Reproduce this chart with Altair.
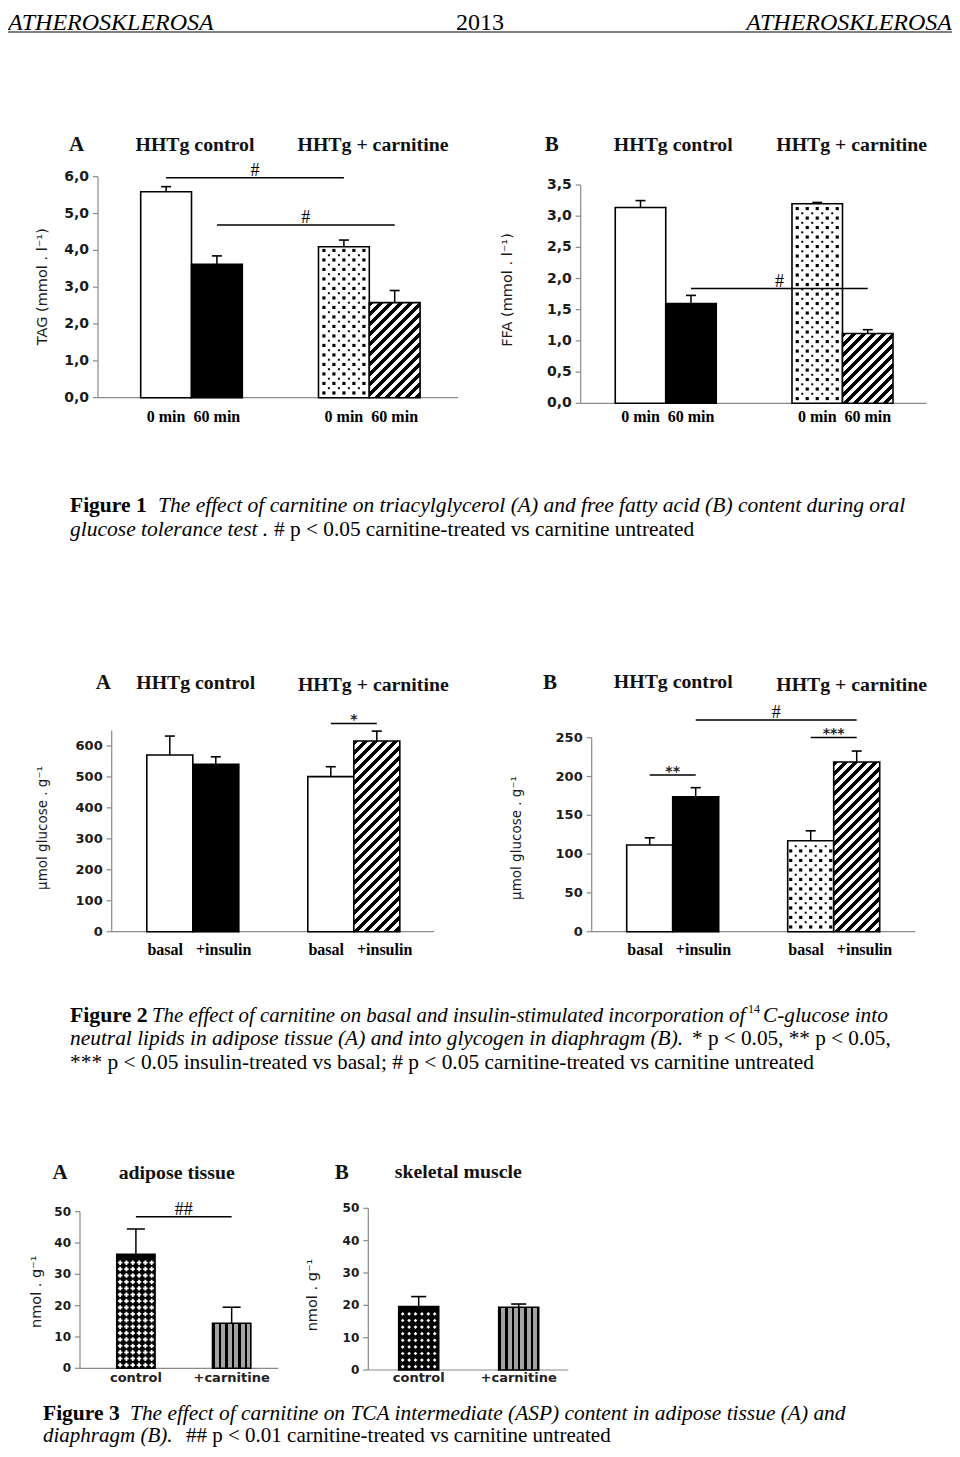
import altair as alt
import pandas as pd

# ---------------- data ----------------
fig1_groups = ["HHTg control", "HHTg + carnitine"]
fig1_times = ["0 min", "60 min"]
fig1a_tag = [5.59, 3.62, 4.10, 2.58]
fig1a_tag_sem = [0.14, 0.23, 0.18, 0.33]
fig1b_ffa = [3.14, 1.60, 3.20, 1.12]
fig1b_ffa_sem = [0.11, 0.13, 0.02, 0.06]

fig2_groups = ["HHTg control", "HHTg + carnitine"]
fig2_treat = ["basal", "+insulin"]
fig2a_lipids = [571, 541, 501, 616]
fig2a_lipids_sem = [61, 24, 32, 32]
fig2b_glycogen = [111.7, 174.0, 117.3, 218.6]
fig2b_glycogen_sem = [9.3, 11.6, 12.7, 14.2]

fig3_groups = ["control", "+carnitine"]
fig3a_asp = [36.4, 14.4]
fig3a_asp_sem = [8.1, 5.1]
fig3b_asp = [19.6, 19.4]
fig3b_asp_sem = [3.1, 1.0]

# y-axis tick values
fig1a_ticks = [0, 1, 2, 3, 4, 5, 6]
fig1b_ticks = [0, 0.5, 1, 1.5, 2, 2.5, 3, 3.5]
fig2a_ticks = [0, 100, 200, 300, 400, 500, 600]
fig2b_ticks = [0, 50, 100, 150, 200, 250]
fig3_ticks = [0, 10, 20, 30, 40, 50]

# significance brackets: (from bar, to bar, height, symbol)
fig1a_sig = [(0, 2, 5.97, "#"), (1, 3, 4.69, "#")]
fig1b_sig = [(1, 3, 1.84, "#")]
fig2a_sig = [(2, 3, 673, "*")]
fig2b_sig = [(0, 1, 201.9, "**"), (2, 3, 250.4, "***"), (1, 3, 272.8, "#")]
fig3a_sig = [(0, 1, 48.4, "##")]
fig3b_sig = []

# ---------------- layout / style ----------------
W, H, M = 944, 1441, 8
SERIF = "Liberation Serif"
SANS = "DejaVu Sans"
AXC = "#8a8a8a"
LBLC = "#1b1b1b"


def hatch_fill(w, h, period=10.0, frac=0.5):
    L = w + h
    k = (w * w + h * h) / L
    stops = []
    j = 0
    while j * period < L:
        a = j * period / L
        b = min((j * period + period * frac) / L, 1.0)
        c = min((j + 1) * period / L, 1.0)
        stops += [{"offset": round(a, 5), "color": "black"}, {"offset": round(b, 5), "color": "black"},
                  {"offset": round(b, 5), "color": "white"}, {"offset": round(c, 5), "color": "white"}]
        j += 1
    return {"gradient": "linear", "x1": 0, "y1": 0, "x2": w / k, "y2": h / k, "stops": stops}


def vstripe_fill(w, period=6.4, frac=0.38):
    stops = []
    j = 0
    while j * period < w:
        a = j * period / w
        b = min((j * period + period * frac) / w, 1.0)
        c = min((j + 1) * period / w, 1.0)
        stops += [{"offset": round(a, 5), "color": "black"}, {"offset": round(b, 5), "color": "black"},
                  {"offset": round(b, 5), "color": "#a3a3a3"}, {"offset": round(c, 5), "color": "#a3a3a3"}]
        j += 1
    return {"gradient": "linear", "x1": 0, "y1": 0, "x2": 1, "y2": 0, "stops": stops}


def centred(n, step):
    return [(k - (n - 1) / 2) * step for k in range(n)]


def build_panel(P):
    n = len(P["values"])
    nper = P["nper"]
    df = pd.DataFrame({"i": list(range(n)), "label": P["labels"],
                       "value": P["values"], "sem": P["sems"]})

    def posexpr(f):
        return f"floor(datum.{f} / {nper}) * {P['gstep']} + (datum.{f} % {nper})"

    u = P["u"]
    xmin = (P["x0"] - P["c0"]) / u
    xmax = (P["x1"] - P["c0"]) / u
    xs = alt.Scale(domain=[xmin, xmax], range=[P["x0"] - M, P["x1"] - M], nice=False)
    ys = alt.Scale(domain=[0, P["ymax"]], range=[P["ybot"] - M, P["ytop"] - M], nice=False)
    ppu = (P["ybot"] - P["ytop"]) / P["ymax"]

    def X(f):
        return alt.X(f, scale=xs, axis=None)

    def Y(f):
        return alt.Y(f, scale=ys, axis=None)

    layers = []
    # ---- axes drawn through the panel scales ----
    frame = (alt.Chart(alt.Data(values=[{}]))
             .transform_calculate(ax=f"{xmin}", bx=f"{xmax}", y0="0", y1=f"{P['ymax']}"))
    layers.append(frame.mark_rule(color=AXC, strokeWidth=1.2)
                  .encode(x=X("ax:Q"), y=Y("y0:Q"), y2="y1:Q"))
    layers.append(frame.mark_rule(color=AXC, strokeWidth=1.2)
                  .encode(x=X("ax:Q"), x2="bx:Q", y=Y("y0:Q")))
    fmt = ("replace(format(datum.tick, '.1f'), '.', ',')" if P.get("comma")
           else "format(datum.tick, 'd')")
    tk = (alt.Chart(pd.DataFrame({"tick": P["ticks"]}))
          .transform_calculate(ax=f"{xmin}")
          .transform_calculate(lab=fmt))
    layers.append(tk.mark_rule(color=AXC, strokeWidth=1.2, x2Offset=-5)
                  .encode(x=X("ax:Q"), x2="ax:Q", y=Y("tick:Q")))
    layers.append(tk.mark_text(font=SANS, fontWeight="bold", fontSize=P["tsize"], color=LBLC,
                               align="right", baseline="middle", dx=-9)
                  .encode(x=X("ax:Q"), y=Y("tick:Q"), text="lab:N"))

    base = (alt.Chart(df)
            .transform_calculate(pos=posexpr("i"))
            .transform_calculate(lo="datum.pos - 0.5")
            .transform_calculate(hi="datum.pos + 0.5")
            .transform_calculate(top="datum.value + datum.sem")
            .transform_calculate(lx=f"datum.pos + (datum.i % {nper} == 0 ? {P['loff'][0]} : {P['loff'][1]})"))

    overlays = []
    for i, style in enumerate(P["styles"]):
        h = P["values"][i] * ppu
        if style in ("white", "dots"):
            fill = "white"
        elif style in ("black", "cross", "zigzag"):
            fill = "black"
        elif style == "hatch":
            fill = hatch_fill(u, h)
        else:
            fill = vstripe_fill(u)
        layers.append(
            base.transform_filter(f"datum.i == {i}")
            .mark_rect(fill=fill, stroke="black", strokeWidth=1.6)
            .encode(x=X("lo:Q"), x2="hi:Q", y=Y("value:Q"), y2=alt.datum(0)))

        def grid(row_px, phase, cols, shape, size, color, margin_px):
            ru = row_px / ppu
            cexpr = "[" + ",".join(f"{c:.4f}" for c in cols) + "]"
            return (base.transform_filter(f"datum.i == {i}")
                    .transform_calculate(rows=f"sequence(0, ceil(datum.value / {ru:.5f}) + 1)")
                    .transform_flatten(["rows"])
                    .transform_calculate(cols=cexpr)
                    .transform_flatten(["cols"])
                    .transform_calculate(xx="datum.pos + datum.cols",
                                         yy=f"(datum.rows + {phase}) * {ru:.5f}")
                    .transform_filter(f"datum.yy < datum.value - {margin_px / ppu:.5f}")
                    .mark_point(shape=shape, size=size, filled=True, color=color, opacity=1, strokeWidth=0)
                    .encode(x=X("xx:Q"), y=Y("yy:Q")))

        if style == "dots":
            overlays.append(grid(9.5, 0.5, centred(5, 10 / u), "square", 10, "black", 3))
            overlays.append(grid(9.5, 1.0, centred(4, 10 / u), "square", 4, "black", 3))
        elif style == "cross":
            overlays.append(grid(6.4, 0.5, centred(6, 6.3 / u), "cross", 20, "white", 3))
        elif style == "zigzag":
            overlays.append(grid(6.6, 0.5, centred(6, 6.4 / u), "diamond", 14, "white", 3))

    layers += overlays
    # error bars (upper only)
    layers.append(base.mark_rule(color="black", strokeWidth=1.5)
                  .encode(x=X("pos:Q"), y=Y("value:Q"), y2="top:Q"))
    layers.append(base.mark_tick(orient="horizontal", size=P["cap"], thickness=1.6,
                                 color="black", opacity=1)
                  .encode(x=X("pos:Q"), y=Y("top:Q")))
    # category labels under each bar
    layers.append(base.mark_text(font=P["lfont"], fontSize=P["lsize"], fontWeight="bold",
                                 baseline="middle", align="center", color=P.get("lcolor", "black"))
                  .encode(x=X("lx:Q"), y=alt.value(P["label_y"] - M), text="label:N"))
    # significance lines
    if P["sig"]:
        sdf = pd.DataFrame(P["sig"], columns=["a", "b", "h", "mark"])
        sb = (alt.Chart(sdf)
              .transform_calculate(xa=posexpr("a"))
              .transform_calculate(xb=posexpr("b"))
              .transform_calculate(xm="(datum.xa + datum.xb) / 2"))
        layers.append(sb.mark_rule(color="black", strokeWidth=1.5)
                      .encode(x=X("xa:Q"), x2="xb:Q", y=Y("h:Q")))
        layers.append(sb.transform_filter("substring(datum.mark, 0, 1) == '#'")
                      .mark_text(font=SERIF, fontSize=18, baseline="alphabetic", dy=-2, color="black")
                      .encode(x=X("xm:Q"), y=Y("h:Q"), text="mark:N"))
        layers.append(sb.transform_filter("substring(datum.mark, 0, 1) == '*'")
                      .mark_text(font=SANS, fontWeight="bold", fontSize=14, baseline="alphabetic",
                                 dy=1, color="#222222")
                      .encode(x=X("xm:Q"), y=Y("h:Q"), text="mark:N"))
    return alt.layer(*layers)


panels = [
    dict(values=fig1a_tag, sems=fig1a_tag_sem, labels=fig1_times * 2,
         styles=["white", "black", "dots", "hatch"], nper=2, gstep=3.5,
         x0=98, x1=458, c0=166.1, u=50.8, ytop=176.7, ybot=397.7, ymax=6,
         ticks=fig1a_ticks, comma=True, tsize=14, cap=10, label_y=416.7, loff=(0.0, 0.0),
         lfont=SERIF, lsize=16, sig=fig1a_sig),
    dict(values=fig1b_ffa, sems=fig1b_ffa_sem, labels=fig1_times * 2,
         styles=["white", "black", "dots", "hatch"], nper=2, gstep=3.5,
         x0=580.7, x1=926.7, c0=640.5, u=50.5, ytop=185, ybot=403.3, ymax=3.5,
         ticks=fig1b_ticks, comma=True, tsize=14, cap=10, label_y=416.7, loff=(0.0, 0.0),
         lfont=SERIF, lsize=16, sig=fig1b_sig),
    dict(values=fig2a_lipids, sems=fig2a_lipids_sem, labels=fig2_treat * 2,
         styles=["white", "black", "white", "hatch"], nper=2, gstep=3.5,
         x0=111.7, x1=434, c0=169.8, u=46, ytop=730.5, ybot=931.7, ymax=650,
         ticks=fig2a_ticks, tsize=13, cap=10, label_y=950, loff=(-0.1, 0.17),
         lfont=SERIF, lsize=16, sig=fig2a_sig),
    dict(values=fig2b_glycogen, sems=fig2b_glycogen_sem, labels=fig2_treat * 2,
         styles=["white", "black", "dots", "hatch"], nper=2, gstep=3.5,
         x0=591.7, x1=915, c0=649.7, u=46, ytop=737.7, ybot=931.7, ymax=250,
         ticks=fig2b_ticks, tsize=13, cap=10, label_y=950, loff=(-0.1, 0.17),
         lfont=SERIF, lsize=16, sig=fig2b_sig),
    dict(values=fig3a_asp, sems=fig3a_asp_sem, labels=fig3_groups,
         styles=["cross", "vstripe"], nper=1, gstep=2.5,
         x0=80, x1=278.3, c0=135.9, u=38.3, ytop=1211.7, ybot=1368.3, ymax=50,
         ticks=fig3_ticks, tsize=12, cap=18, label_y=1378.3, loff=(0.0, 0.0),
         lfont=SANS, lsize=13, lcolor="#222222", sig=fig3a_sig),
    dict(values=fig3b_asp, sems=fig3b_asp_sem, labels=fig3_groups,
         styles=["zigzag", "vstripe"], nper=1, gstep=2.5,
         x0=368.3, x1=568.3, c0=418.7, u=40, ytop=1208.3, ybot=1370, ymax=50,
         ticks=fig3_ticks, tsize=12, cap=15, label_y=1378.3, loff=(0.0, 0.0),
         lfont=SANS, lsize=13, lcolor="#222222", sig=fig3b_sig),
]


def txt(s, x, y, size, font=SERIF, weight="normal", style="normal", align="left",
        baseline="alphabetic", angle=0, color="black"):
    return (alt.Chart(alt.Data(values=[{}]))
            .mark_text(text=s, font=font, fontSize=size, fontWeight=weight, fontStyle=style,
                       align=align, baseline=baseline, angle=angle, color=color)
            .encode(x=alt.value(x - M), y=alt.value(y - M)))


texts = []
# running header
texts.append(txt("ATHEROSKLEROSA", 8, 30, 24, style="italic"))
texts.append(txt("2013", 480, 30, 24, align="center"))
texts.append(txt("ATHEROSKLEROSA", 952, 30, 24, style="italic", align="right"))
texts.append(alt.Chart(alt.Data(values=[{}])).mark_rule(color="black", strokeWidth=1)
             .encode(x=alt.value(0), x2=alt.value(W), y=alt.value(32 - M)))

# panel titles
titles = [
    ("A", 76.7, 145, 21), (fig1_groups[0], 195, 145, 19.8), (fig1_groups[1], 373, 145, 19.8),
    ("B", 551.7, 145, 21), (fig1_groups[0], 673.3, 145, 19.8), (fig1_groups[1], 851.7, 145, 19.8),
    ("A", 103.3, 683.3, 21), (fig2_groups[0], 195.7, 683, 19.8), (fig2_groups[1], 373.3, 685, 19.8),
    ("B", 550, 683.3, 21), (fig2_groups[0], 673.3, 682, 19.8), (fig2_groups[1], 851.7, 685, 19.8),
    ("A", 60, 1173, 21), ("adipose tissue", 176.7, 1173, 19.8),
    ("B", 341.7, 1173, 21), ("skeletal muscle", 458.3, 1172, 19.8),
]
for s, x, y, sz in titles:
    texts.append(txt(s, x, y, sz, weight="bold", align="center", baseline="middle", color="#111111"))

# y-axis titles
ytitles = [
    ("TAG (mmol . l⁻¹)", 42.7, 286.7, 14.5), ("FFA (mmol . l⁻¹)", 508.3, 290, 14.5),
    ("µmol glucose . g⁻¹", 43.3, 828, 13.5), ("µmol glucose . g⁻¹", 516.7, 838, 13.5),
    ("nmol . g⁻¹", 36.7, 1291.7, 14.5), ("nmol . g⁻¹", 312.7, 1295, 14.5),
]
for s, x, y, sz in ytitles:
    texts.append(txt(s, x, y, sz, font=SANS, align="center", baseline="middle", angle=270,
                     color="#1a1a1a"))

# figure captions
caps = [
    ("Figure 1", 70, 512, "bold", "normal", 21.5),
    ("The effect of carnitine on triacylglycerol (A) and free fatty acid (B) content during oral",
     158, 512, "normal", "italic", 21.5),
    ("glucose tolerance test .", 70, 536, "normal", "italic", 21.5),
    ("# p < 0.05 carnitine-treated vs carnitine untreated", 274, 536, "normal", "normal", 21.3),
    ("Figure 2", 70, 1022, "bold", "normal", 21.8),
    ("The effect of carnitine on basal and insulin-stimulated incorporation of",
     152, 1022, "normal", "italic", 20.8),
    ("14", 748, 1013, "normal", "normal", 12),
    ("C-glucose  into", 763, 1022, "normal", "italic", 21.3),
    ("neutral lipids in adipose tissue (A) and into glycogen in diaphragm (B).",
     70, 1045, "normal", "italic", 21.4),
    ("* p < 0.05, ** p < 0.05,", 692, 1045, "normal", "normal", 21.2),
    ("*** p < 0.05 insulin-treated vs basal; # p < 0.05 carnitine-treated vs carnitine untreated",
     70, 1069, "normal", "normal", 21.4),
    ("Figure 3", 43, 1420, "bold", "normal", 21.5),
    ("The effect of carnitine on TCA intermediate (ASP) content in adipose tissue (A) and",
     130, 1420, "normal", "italic", 21.4),
    ("diaphragm (B).", 43, 1442, "normal", "italic", 21),
    ("## p < 0.01 carnitine-treated vs carnitine untreated", 186, 1442, "normal", "normal", 21),
]
for s, x, y, wt, st, sz in caps:
    texts.append(txt(s, x, y, sz, weight=wt, style=st))

chart = (alt.layer(*[build_panel(P) for P in panels], *texts)
         .resolve_scale(x="independent", y="independent")
         .properties(width=W, height=H, padding=0, autosize=alt.AutoSizeParams(type="none"))
         .configure_view(stroke=None))

chart.save("out.html", embed_options={"renderer": "svg", "actions": False})
